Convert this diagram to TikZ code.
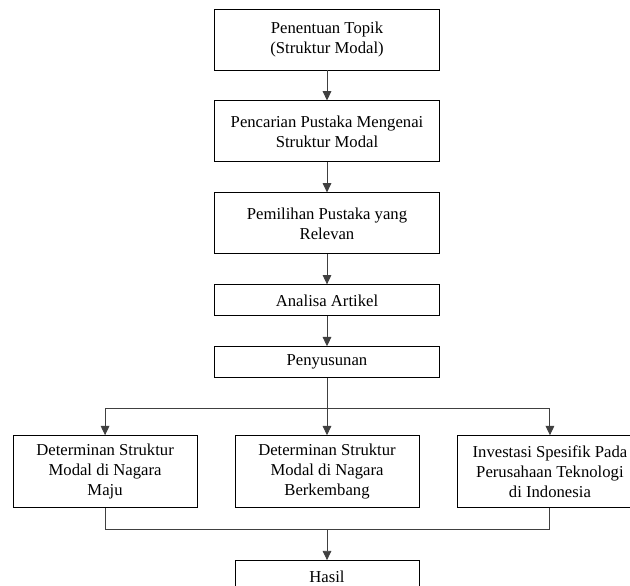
\documentclass[tikz,border=0pt]{standalone}
\usepackage{fontspec}
\setmainfont{Liberation Serif}
\usetikzlibrary{positioning,arrows.meta}

\begin{document}
\begin{tikzpicture}[x=0.75pt, y=0.75pt, node distance=22.5pt, >={Triangle[length=7pt,width=6.5pt]},
        main/.style = {draw, line width=0.7pt, align=center, minimum width=168.75pt, inner sep=2pt,
                       font=\fontsize{12.5}{15}\selectfont},
        tall/.style = {main, minimum height=45.75pt},
        low/.style = {main, minimum height=23.25pt},
        branch/.style = {main, minimum width=138pt, minimum height=54pt},
        link/.style = {line width=0.7pt, draw=black!75}]
            \useasboundingbox (0,0) rectangle (630,-585);
            \clip (0,0) rectangle (630,-585);

            \node[tall] (1) at (327,-39.5)       {Penentuan Topik\\(Struktur Modal)};
            \node[tall] (2) [below=of 1]         {Pencarian Pustaka Mengenai\\Struktur Modal};
            \node[tall] (3) [below=of 2]         {Pemilihan Pustaka yang\\Relevan};
            \node[low] (4) [below=of 3]          {Analisa Artikel};
            \node[low] (5) [below=of 4]          {Penyusunan};
            \node[branch] (7) [below=42.75pt of 5] {Determinan Struktur\\Modal di Nagara\\Berkembang};
            \node[branch] (6) [left=27.75pt of 7] {Determinan Struktur\\Modal di Nagara\\Maju};
            \node[branch] (8) [right=28.5pt of 7] {Investasi Spesifik Pada\\Perusahaan Teknologi\\di Indonesia};
            \node[main, minimum width=138pt, minimum height=24pt] (9) [below=39pt of 7] {Hasil};

            \coordinate[below=22.5pt of 5] (split);
            \coordinate[below=15.75pt of 7] (join);

            \draw[link, ->] (1) to (2);
            \draw[link, ->] (2) to (3);
            \draw[link, ->] (3) to (4);
            \draw[link, ->] (4) to (5);
            \draw[link] (5) to (split);
            \draw[link, ->] (split) -| (6);
            \draw[link, ->] (split) to (7);
            \draw[link, ->] (split) -| (8);
            \draw[link] (6) |- (join);
            \draw[link] (8) |- (join);
            \draw[link, ->] (join) to (9);
        \end{tikzpicture}
\end{document}
